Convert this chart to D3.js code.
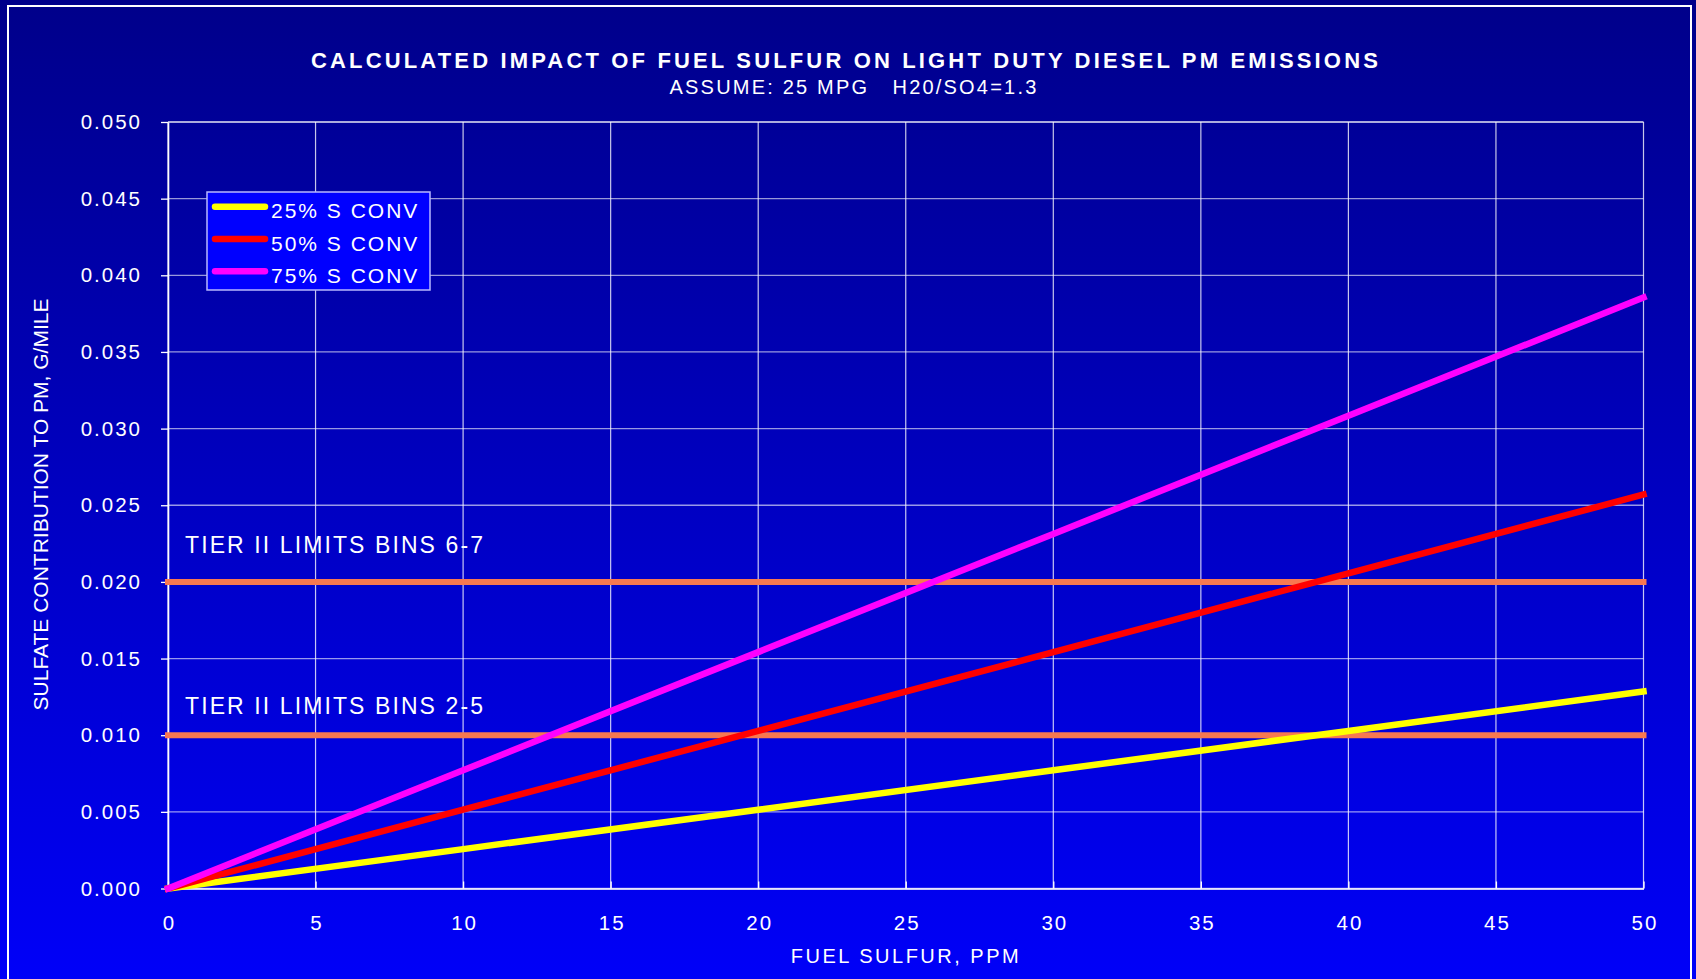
<!DOCTYPE html>
<html>
<head>
<meta charset="utf-8">
<script src="https://cdn.jsdelivr.net/npm/d3@7"></script>
<style>
  html, body { margin: 0; padding: 0; background: #000090; overflow: hidden; }
  text { font-family: "Liberation Sans", Arial, sans-serif; fill: #fff; }
</style>
</head>
<body>
<script>
// chart data
var ppm = [0, 10, 20, 30, 40, 50];
var conv25 = [0, 0.00257, 0.00514, 0.00771, 0.01028, 0.01285];
var conv50 = [0, 0.00514, 0.01028, 0.01542, 0.02056, 0.0257];
var conv75 = [0, 0.00771, 0.01542, 0.02313, 0.03084, 0.03855];
var seriesNames = ["25% S CONV", "50% S CONV", "75% S CONV"];
var limitX = [0, 50];
var limitValues = [0.010, 0.020];
var limitLabels = ["TIER II LIMITS BINS 2-5", "TIER II LIMITS BINS 6-7"];
var xTicks = [0, 5, 10, 15, 20, 25, 30, 35, 40, 45, 50];
var yTicks = [0, 0.005, 0.010, 0.015, 0.020, 0.025, 0.030, 0.035, 0.040, 0.045, 0.050];

var width = 1696,
    height = 979;

// plot box (window.top is reserved, so no "top" here)
var plotLeft = 168, plotRight = 1643.5, plotTop = 122, plotBottom = 888.5;

var svg = d3.select("body").append("svg")
    .attr("width", width)
    .attr("height", height);

// background gradient
var grad = svg.append("defs").append("linearGradient")
    .attr("id", "bg")
    .attr("x1", 0).attr("y1", 0).attr("x2", 0).attr("y2", 1);
grad.append("stop").attr("offset", "0%").attr("stop-color", "#00008a");
grad.append("stop").attr("offset", "100%").attr("stop-color", "#0000f8");

svg.append("rect")
    .attr("width", width)
    .attr("height", height)
    .attr("fill", "url(#bg)");

// frame
svg.append("rect")
    .attr("x", 8).attr("y", 6)
    .attr("width", 1683).attr("height", 1000)
    .attr("fill", "none")
    .attr("stroke", "#fff")
    .attr("stroke-width", 2);

var x = d3.scaleLinear().domain([0, 50]).range([plotLeft, plotRight]);
var y = d3.scaleLinear().domain([0, 0.05]).range([plotBottom, plotTop]);

// grid
svg.append("g").selectAll("line")
    .data(yTicks)
    .enter().append("line")
    .attr("x1", plotLeft).attr("x2", plotRight)
    .attr("y1", function (d) { return y(d); })
    .attr("y2", function (d) { return y(d); })
    .attr("stroke", "#fff")
    .attr("stroke-opacity", function (d, i) { return i == yTicks.length - 1 ? 0.9 : 0.6; })
    .attr("stroke-width", 1.3);

svg.append("g").selectAll("line")
    .data(xTicks)
    .enter().append("line")
    .attr("y1", plotTop).attr("y2", plotBottom)
    .attr("x1", function (d) { return x(d); })
    .attr("x2", function (d) { return x(d); })
    .attr("stroke", "#fff")
    .attr("stroke-opacity", 0.78)
    .attr("stroke-width", 1.2);

// axes
var yAxis = svg.append("g")
    .attr("transform", "translate(" + plotLeft + ",0)")
    .call(d3.axisLeft(y).tickValues(yTicks).tickFormat(d3.format(".3f"))
        .tickSizeInner(7).tickSizeOuter(0).tickPadding(19));

var xAxis = svg.append("g")
    .attr("transform", "translate(0," + plotBottom + ")")
    .call(d3.axisBottom(x).tickValues(xTicks)
        .tickSizeInner(-7).tickSizeOuter(0).tickPadding(27));

[yAxis, xAxis].forEach(function (a) {
    a.select(".domain").attr("stroke", "#fff").attr("stroke-width", 1.6);
    a.selectAll(".tick line").attr("stroke", "#fff").attr("stroke-width", 1.3);
    a.selectAll(".tick text")
        .attr("fill", "#fff")
        .style("font-family", "'Liberation Sans', Arial, sans-serif")
        .style("font-size", "20.5px")
        .style("letter-spacing", "2px");
});
xAxis.selectAll(".tick text").attr("dx", 1);

// limit lines
var line = d3.line()
    .x(function (d) { return x(d[0]); })
    .y(function (d) { return y(d[1]); });

svg.append("g").selectAll("path")
    .data(limitValues)
    .enter().append("path")
    .attr("d", function (v) { return line(limitX.map(function (p) { return [p, v]; })); })
    .attr("fill", "none")
    .attr("stroke", "#f87850")
    .attr("stroke-width", 6)
    .attr("stroke-linecap", "square");

// limit labels
var labelPos = [[185, 714], [185, 553]];
svg.append("g").selectAll("text")
    .data(limitLabels)
    .enter().append("text")
    .attr("x", function (d, i) { return labelPos[i][0]; })
    .attr("y", function (d, i) { return labelPos[i][1]; })
    .style("font-size", "23px")
    .style("letter-spacing", "2.1px")
    .text(function (d) { return d; });

// data series
var series = [conv25, conv50, conv75];
var colors = ["#ffff00", "#ff0000", "#ff00ff"];

svg.append("g").selectAll("path")
    .data(series)
    .enter().append("path")
    .attr("d", function (s) { return line(s.map(function (v, i) { return [ppm[i], v]; })); })
    .attr("fill", "none")
    .attr("stroke", function (d, i) { return colors[i]; })
    .attr("stroke-width", 6.5)
    .attr("stroke-linecap", "square");

// legend
var legend = svg.append("g");
legend.append("rect")
    .attr("x", 207).attr("y", 192)
    .attr("width", 223).attr("height", 98)
    .attr("fill", "#0000ff")
    .attr("stroke", "#b8b8ff")
    .attr("stroke-width", 1.5);

var item = legend.selectAll(".item")
    .data(seriesNames)
    .enter().append("g")
    .attr("class", "item")
    .attr("transform", function (d, i) { return "translate(0," + (206.7 + i * 32.3) + ")"; });

item.append("line")
    .attr("x1", 215).attr("x2", 265)
    .attr("stroke", function (d, i) { return colors[i]; })
    .attr("stroke-width", 6.5)
    .attr("stroke-linecap", "round");

item.append("text")
    .attr("x", 271).attr("y", 11.5)
    .style("font-size", "21px")
    .style("letter-spacing", "2px")
    .text(function (d) { return d; });

// titles
svg.append("text")
    .attr("x", 846).attr("y", 68)
    .attr("text-anchor", "middle")
    .style("font-size", "22px")
    .style("font-weight", "bold")
    .style("letter-spacing", "3.15px")
    .text("CALCULATED IMPACT OF FUEL SULFUR ON LIGHT DUTY DIESEL PM EMISSIONS");

svg.append("text")
    .attr("x", 854).attr("y", 94)
    .attr("text-anchor", "middle")
    .style("font-size", "20px")
    .style("letter-spacing", "2.2px")
    .style("white-space", "pre")
    .text("ASSUME: 25 MPG   H20/SO4=1.3");

svg.append("text")
    .attr("transform", "translate(47.5,504.5) rotate(-90)")
    .attr("text-anchor", "middle")
    .style("font-size", "21px")
    .text("SULFATE CONTRIBUTION TO PM, G/MILE");

svg.append("text")
    .attr("x", 906).attr("y", 962.7)
    .attr("text-anchor", "middle")
    .style("font-size", "20px")
    .style("letter-spacing", "2.5px")
    .text("FUEL SULFUR, PPM");
</script>
</body>
</html>
